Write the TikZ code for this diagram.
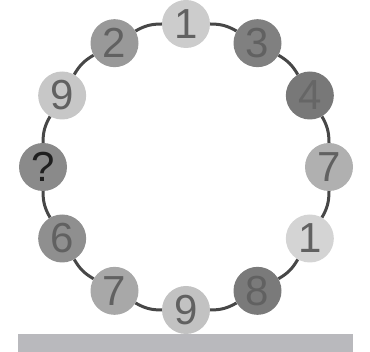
\documentclass[tikz,border=0pt]{standalone}
\usepackage{fontspec}
\setmainfont{Liberation Sans}
\usetikzlibrary{positioning,calc}

\begin{document}
\begin{tikzpicture}[
  x=1pt, y=-1pt,
  bead/.style={circle,minimum size=48pt,inner sep=0pt,
    font=\fontsize{42}{42}\selectfont},
  ring/.style={draw=black!72,line width=3pt}
]
  \useasboundingbox (0,0) rectangle (370,352);
  \coordinate (o) at (186,167);

  % beads clockwise from the top
  \foreach \ang/\lab/\shade/\ink [count=\i] in {90/1/20/62, 60/3/50/62,
      30/4/53/60, 0/7/31/62, -30/1/17/62, -60/8/52/62, -90/9/24/62,
      -120/7/34/62, -150/6/44/62, 180/?/46/88, 150/9/22/62, 120/2/40/62}
    \node[bead,fill=black!\shade,text=black!\ink] (n\i) at ($(o)+(\ang:143pt)$) {\lab};

  % ring between neighbours
  \foreach \i [evaluate=\i as \j using {int(mod(\i,12)+1)}] in {1,...,12}
    \draw[ring] (n\i) to[bend left=15] (n\j);

  \fill[fill={rgb,255:red,185;green,185;blue,189}] (18,334) rectangle (353,352);
\end{tikzpicture}
\end{document}
